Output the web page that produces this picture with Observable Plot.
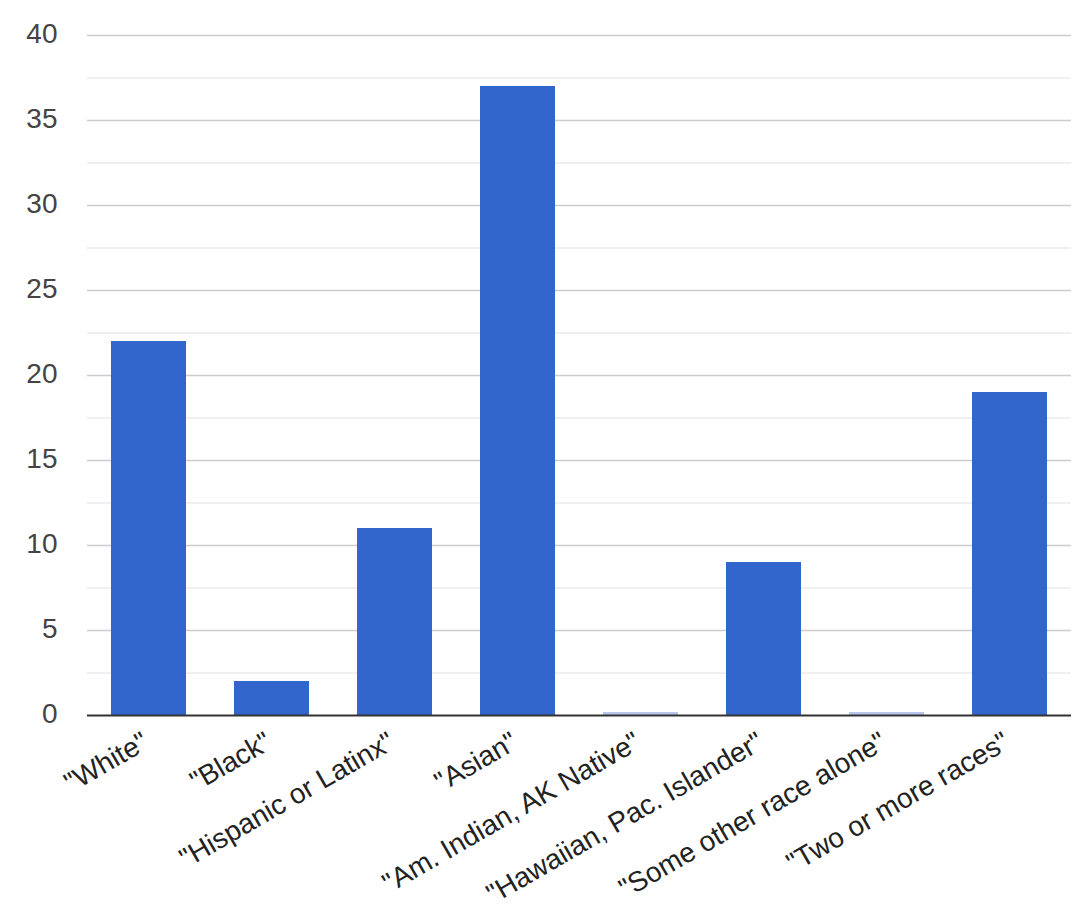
<!DOCTYPE html>
<html>
<head>
<meta charset="utf-8">
<script src="https://cdn.jsdelivr.net/npm/d3@7"></script>
<script src="https://cdn.jsdelivr.net/npm/@observablehq/plot@0.6"></script>
<style>
  html, body { margin: 0; padding: 0; background: #fff; }
  #chart svg { display: block; }
</style>
</head>
<body>
<div id="chart"></div>
<script>
const categories = ['"White"', '"Black"', '"Hispanic or Latinx"', '"Asian"', '"Am. Indian, AK Native"', '"Hawaiian, Pac. Islander"', '"Some other race alone"', '"Two or more races"'];
const counts = [22, 2, 11, 37, 0, 9, 0, 19];
const majorTicks = [0, 5, 10, 15, 20, 25, 30, 35, 40];
const minorTicks = [2.5, 7.5, 12.5, 17.5, 22.5, 27.5, 32.5, 37.5];

const data = categories.map((c, i) => ({category: c, value: counts[i]}));
const zeros = data.filter(d => d.value === 0);

const chart = Plot.plot({
  width: 1085,
  height: 914,
  marginLeft: 87,
  marginRight: 14,
  marginTop: 35,
  marginBottom: 199,
  style: {fontFamily: "'Liberation Sans', Arial, sans-serif", fontSize: "28px", background: "#fff"},
  x: {domain: categories, paddingInner: 0.39, paddingOuter: 0.195, label: null},
  y: {domain: [0, 40], label: null},
  marks: [
    Plot.ruleY(minorTicks, {stroke: "#ebebeb", strokeWidth: 1.3}),
    Plot.ruleY(majorTicks.filter(t => t !== 0), {stroke: "#cccccc", strokeWidth: 1.3}),
    Plot.barY(data, {x: "category", y: "value", fill: "#3366cc"}),
    Plot.tickY(zeros, {x: "category", y: "value", stroke: "#b7c6ea", strokeWidth: 3, dy: -2}),
    Plot.ruleY([0], {stroke: "#333", strokeWidth: 2}),
    Plot.axisY({ticks: majorTicks, tickSize: 0, tickPadding: 30, fontSize: 28, color: "#444", dy: -1, label: null}),
    Plot.axisX({tickSize: 0, tickPadding: 24, tickRotate: -30, fontSize: 28, color: "#222", dx: -3, label: null})
  ]
});
document.getElementById("chart").appendChild(chart);
</script>
</body>
</html>
